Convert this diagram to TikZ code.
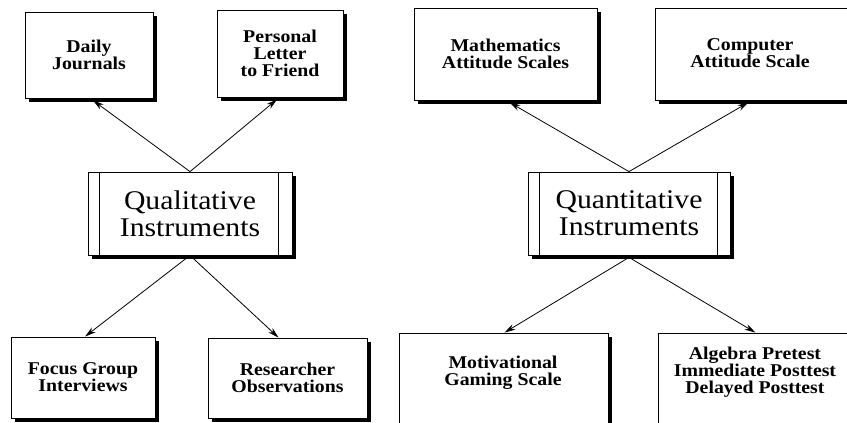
\documentclass[tikz,border=0pt]{standalone}
\usepackage{fontspec}
\setmainfont{Liberation Serif}
\newfontfamily\leaffont[FakeStretch=1.1]{Liberation Serif}
\newfontfamily\mainboxfont[FakeStretch=1.1]{Liberation Serif}
\usetikzlibrary{arrows.meta,calc}
\begin{document}
\begin{tikzpicture}[x=1pt,y=-1pt,
  boxed/.style={draw=black,line width=0.8pt,fill=white},
  leaf/.style={boxed,rectangle,align=center,inner sep=0pt,
    font=\leaffont\bfseries\fontsize{18}{17}\selectfont},
  leaftext/.style={align=center,inner sep=0pt,
    font=\leaffont\bfseries\fontsize{18}{17}\selectfont},
  hub/.style={boxed,rectangle,align=center,inner sep=0pt,
    font=\mainboxfont\fontsize{27}{27}\selectfont},
  shade/.style={fill=black},
  link/.style={line width=0.8pt,-{Stealth[length=11pt,width=6pt]}}
]
\fill[white] (0,0) rectangle (847,423);
\useasboundingbox (0,0) rectangle (847,423);

% shadows first: filled rectangles offset down-right
\fill[shade] (28.5,15.5) rectangle (156.5,101.5);
\fill[shade] (220.5,13.5) rectangle (346.5,100.5);
\fill[shade] (417.5,11.5) rectangle (600.5,103.5);
\fill[shade] (658.5,11.5) rectangle (850,103.5);
\fill[shade] (91.5,175.5) rectangle (295.5,258.5);
\fill[shade] (531.5,175.5) rectangle (733.5,258.5);
\fill[shade] (14.5,340.5) rectangle (158.5,421.5);
\fill[shade] (211.5,341.5) rectangle (370.5,421.5);
\fill[shade] (402.5,336.5) rectangle (612,430);

% leaves, top
\node[leaf,minimum width=128pt,minimum height=86pt] (dj) at (89,55) {Daily\\Journals};
\node[leaf,minimum width=126pt,minimum height=87pt] (pl) at (280,53.5) {Personal\\Letter\\to Friend};
\node[leaf,minimum width=183pt,minimum height=92pt] (ma) at (505.5,54) {Mathematics\\Attitude Scales};
\node[leaf,minimum width=195pt,minimum height=92pt] (ca) at (752.5,54) {};
\node[leaftext] (catxt) at (750,53) {Computer\\Attitude Scale};

% hubs
\node[hub,minimum width=204pt,minimum height=83pt] (qual) at (190,213.5) {Qualitative\\Instruments};
\draw[line width=0.8pt] ($(qual.north west)+(12,0)$) -- ($(qual.south west)+(12,0)$);
\draw[line width=0.8pt] ($(qual.north east)+(-14,0)$) -- ($(qual.south east)+(-14,0)$);
\node[hub,minimum width=202pt,minimum height=83pt] (quant) at (629,213.5) {Quantitative\\Instruments};
\draw[line width=0.8pt] ($(quant.north west)+(12,0)$) -- ($(quant.south west)+(12,0)$);
\draw[line width=0.8pt] ($(quant.north east)+(-13,0)$) -- ($(quant.south east)+(-13,0)$);

% leaves, bottom
\node[leaf,minimum width=144pt,minimum height=81pt] (fg) at (83,377.5) {Focus Group\\Interviews};
\node[leaf,minimum width=159pt,minimum height=80pt] (ro) at (287.5,378) {Researcher\\Observations};
\node[leaf,minimum width=209pt,minimum height=100pt] (mg) at (503.5,383) {};
\node[leaftext] (mgtxt) at (503,373) {Motivational\\Gaming Scale};
\node[leaf,minimum width=195pt,minimum height=100pt] (ab) at (755.5,383) {};
\node[leaftext] (abtxt) at (755,372) {Algebra Pretest\\Immediate Posttest\\Delayed Posttest};

% connectors
\draw[link] (qual.north) -- ($(dj.south)+(4,2)$);
\draw[link] (qual.north) -- ($(pl.south)+(-3,2)$);
\draw[link] (qual.south) -- ($(fg.north)+(2,0)$);
\draw[link] (qual.south) -- ($(ro.north)+(-9,0)$);
\draw[link] (quant.north) -- ($(ma.south)+(4,2)$);
\draw[link] (quant.north) -- ($(ca.south)+(-4,2)$);
\draw[link] ($(quant.south)+(0,2)$) -- ($(mg.north)+(1,0)$);
\draw[link] ($(quant.south)+(0,2)$) -- (ab.north);
\end{tikzpicture}
\end{document}
